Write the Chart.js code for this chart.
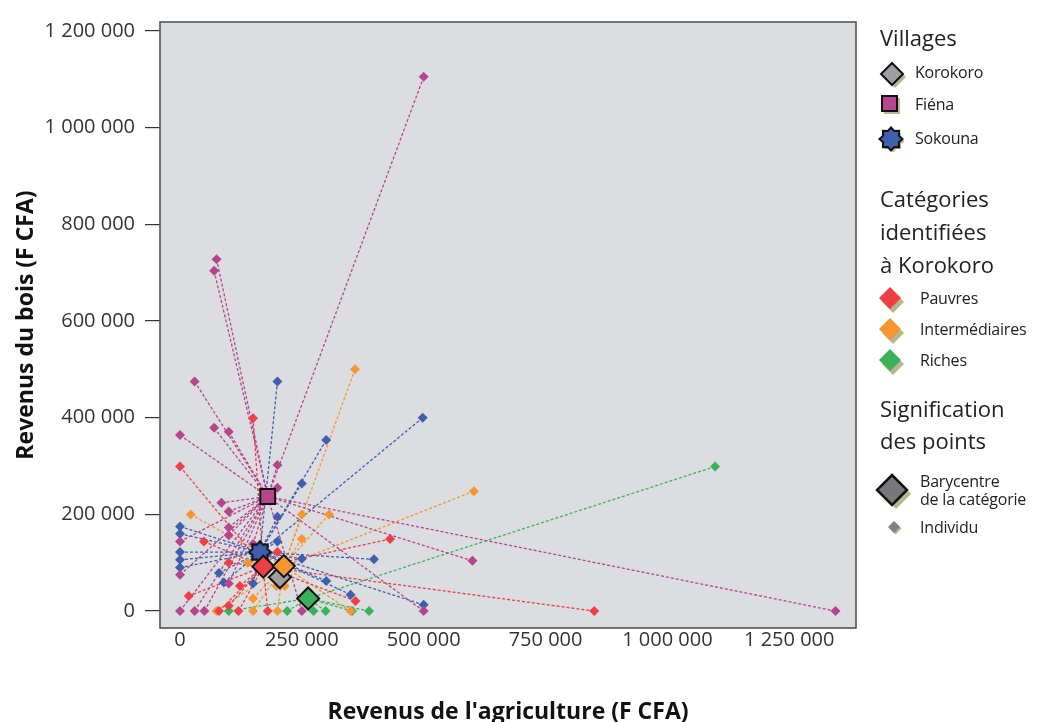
<!DOCTYPE html>
<html>
<head>
<meta charset="utf-8">
<script src="https://cdn.jsdelivr.net/npm/chart.js@4.4.1/dist/chart.umd.min.js"></script>
<style>
  body { margin: 0; background: #fff; }
  #wrap { position: relative; width: 1038px; height: 722px; overflow: hidden; font-family: "Open Sans", sans-serif; color: #222; }
  #chart { position: absolute; left: 0; top: 0; }
  .lg { position: absolute; white-space: nowrap; }
  .h { font-size: 22px; line-height: 32px; left: 880px; }
  .it { font-size: 16px; line-height: 18px; letter-spacing: -0.2px; }
  .ic { position: absolute; }
</style>
</head>
<body>
<div id="wrap">
  <canvas id="chart" width="1038" height="722"></canvas>

  <div class="lg h" style="top:21px">Villages</div>
  <svg class="ic" style="left:878px;top:60px" width="30" height="28"><polygon points="15,4 26,15 15,26 4,15" fill="#b9b58c" transform="translate(2,2)"/><polygon points="14,3 25,14 14,25 3,14" fill="#9d9fa2" stroke="#111" stroke-width="2"/></svg>
  <div class="lg it" style="left:915px;top:63px">Korokoro</div>
  <svg class="ic" style="left:880px;top:94px" width="26" height="24"><rect x="4" y="4" width="16" height="16" fill="#b9b58c"/><rect x="2" y="2" width="15" height="15" fill="#b5458c" stroke="#111" stroke-width="2"/></svg>
  <div class="lg it" style="left:915px;top:95px">Fiéna</div>
  <svg class="ic" id="lgStar" style="left:877px;top:125px" width="30" height="30"></svg>
  <div class="lg it" style="left:915px;top:129px">Sokouna</div>

  <div class="lg h" style="top:182px">Catégories</div>
  <div class="lg h" style="top:215px">identifiées</div>
  <div class="lg h" style="top:248px">à Korokoro</div>
  <svg class="ic" style="left:876px;top:285px" width="30" height="28"><polygon points="15,4 26,15 15,26 4,15" fill="#b9b58c" transform="translate(2,2)"/><polygon points="14,2 25,13 14,24 3,13" fill="#ee3f45"/></svg>
  <div class="lg it" style="left:920px;top:289px">Pauvres</div>
  <svg class="ic" style="left:876px;top:316px" width="30" height="28"><polygon points="15,4 26,15 15,26 4,15" fill="#b9b58c" transform="translate(2,2)"/><polygon points="14,2 25,13 14,24 3,13" fill="#f7962f"/></svg>
  <div class="lg it" style="left:920px;top:320px">Intermédiaires</div>
  <svg class="ic" style="left:876px;top:347px" width="30" height="28"><polygon points="15,4 26,15 15,26 4,15" fill="#b9b58c" transform="translate(2,2)"/><polygon points="14,2 25,13 14,24 3,13" fill="#3bb25a"/></svg>
  <div class="lg it" style="left:920px;top:351px">Riches</div>

  <div class="lg h" style="top:392px">Signification</div>
  <div class="lg h" style="top:424px">des points</div>
  <svg class="ic" style="left:874px;top:472px" width="40" height="40"><polygon points="19,4 34,19 19,34 4,19" fill="#b9b58c" transform="translate(3,3)"/><polygon points="18,3 33,18 18,33 3,18" fill="#77787b" stroke="#111" stroke-width="2.5"/></svg>
  <div class="lg it" style="left:920px;top:472px">Barycentre</div>
  <div class="lg it" style="left:920px;top:490px">de la catégorie</div>
  <svg class="ic" style="left:886px;top:519px" width="18" height="18"><polygon points="8,2 14,8 8,14 2,8" fill="#b9b58c" transform="translate(1.5,1.5)"/><polygon points="8,2 14,8 8,14 2,8" fill="#808184"/></svg>
  <div class="lg it" style="left:920px;top:518px">Individu</div>
</div>

<script>
// ticks
const xTicks = [0, 250000, 500000, 750000, 1000000, 1250000];
const yTicks = [0, 200000, 400000, 600000, 800000, 1000000, 1200000];

// Fiéna individuals
const fienaX = [500000, 75000, 70000, 30000, 70000, 100000, 0, 200000, 200000, 85000, 100000, 100000, 100000, 0, 150000, 0, 100000, 0, 30000, 50000, 250000, 500000, 600000, 1345000];
const fienaY = [1105000, 728000, 704000, 475000, 379000, 371000, 364000, 302000, 255000, 224000, 206000, 173000, 157000, 144000, 139000, 75000, 57000, 0, 0, 0, 0, 0, 104000, 0];

// Sokouna individuals
const sokounaX = [498000, 200000, 300000, 250000, 200000, 200000, 0, 0, 0, 0, 0, 250000, 398000, 300000, 350000, 500000, 80000, 90000, 150000];
const sokounaY = [400000, 475000, 354000, 264000, 195000, 144000, 175000, 160000, 122000, 106000, 90000, 108000, 107000, 62000, 34000, 13000, 79000, 59000, 57000];

// Korokoro: pauvres
const pauvresX = [150000, 0, 431000, 850000, 49000, 200000, 100000, 123000, 18000, 360000, 100000, 80000, 120000, 180000];
const pauvresY = [399000, 299000, 149000, 0, 144000, 122000, 100000, 52000, 31000, 21000, 11000, 0, 0, 0];

// Korokoro: intermédiaires
const interX = [359000, 603000, 306000, 250000, 250000, 22000, 139000, 198000, 215000, 150000, 75000, 150000, 200000, 350000];
const interY = [500000, 248000, 200000, 200000, 149000, 200000, 100000, 52000, 52000, 26000, 0, 0, 0, 0];

// Korokoro: riches
const richesX = [1098000, 100000, 220000, 274000, 299000, 353000, 388000];
const richesY = [299000, 0, 0, 0, 0, 0, 0];

// barycentres: Korokoro, Fiéna, Sokouna, Pauvres, Intermédiaires, Riches
const baryNames = ["Korokoro", "Fiéna", "Sokouna", "Pauvres", "Intermédiaires", "Riches"];
const baryX = [205000, 180000, 164000, 171000, 213000, 263000];
const baryY = [70000, 237000, 122000, 92000, 93000, 26000];

const fmt = v => String(v).replace(/\B(?=(\d{3})+(?!\d))/g, ' ');

function makeStar(r1, r2, fill) {
  const s = Math.ceil(r1 * 2 + 4);
  const c = document.createElement('canvas');
  c.width = s; c.height = s;
  const g = c.getContext('2d');
  g.translate(s / 2, s / 2);
  g.beginPath();
  for (let i = 0; i < 16; i++) {
    const r = i % 2 ? r2 : r1;
    const a = i * Math.PI / 8 - Math.PI / 2;
    g.lineTo(r * Math.cos(a), r * Math.sin(a));
  }
  g.closePath();
  g.fillStyle = fill; g.fill();
  g.lineWidth = 2; g.strokeStyle = '#111'; g.stroke();
  return c;
}

// star in legend
(function () {
  const pts = (cx, cy) => {
    let p = [];
    for (let i = 0; i < 16; i++) {
      const r = i % 2 ? 8.5 : 11.5;
      const a = i * Math.PI / 8 - Math.PI / 2;
      p.push((cx + r * Math.cos(a)).toFixed(1) + ',' + (cy + r * Math.sin(a)).toFixed(1));
    }
    return p.join(' ');
  };
  document.getElementById('lgStar').innerHTML =
    '<polygon points="' + pts(16, 16) + '" fill="#b9b58c"/>' +
    '<polygon points="' + pts(14, 14) + '" fill="#3f5fae" stroke="#111" stroke-width="2"/>';
})();

const groups = [
  { xs: fienaX, ys: fienaY, color: '#b5458c', bary: 1 },
  { xs: sokounaX, ys: sokounaY, color: '#3f5fae', bary: 2 },
  { xs: pauvresX, ys: pauvresY, color: '#ee3f45', bary: 3 },
  { xs: interX, ys: interY, color: '#f7962f', bary: 4 },
  { xs: richesX, ys: richesY, color: '#3bb25a', bary: 5 }
];

const datasets = [];
groups.forEach(g => {
  const bx = baryX[g.bary], by = baryY[g.bary];
  g.xs.forEach((x, i) => {
    datasets.push({
      data: [{ x: x, y: g.ys[i] }, { x: bx, y: by }],
      showLine: true,
      borderColor: g.color,
      borderWidth: 1.3,
      borderDash: [3, 2],
      pointRadius: 0,
      order: 5
    });
  });
});
groups.forEach(g => {
  datasets.push({
    data: g.xs.map((x, i) => ({ x: x, y: g.ys[i] })),
    pointStyle: 'rectRot',
    pointRadius: 5,
    backgroundColor: g.color,
    borderColor: g.color,
    borderWidth: 0,
    order: 4
  });
});

const baryStyle = [
  { style: 'rectRot', r: 11, color: '#9d9fa2', order: 3 },
  { style: 'rect', r: 10.5, color: '#b5458c', order: 1 },
  { style: makeStar(11, 8, '#3f5fae'), r: 11, color: '#3f5fae', order: 3 },
  { style: 'rectRot', r: 11, color: '#ee3f45', order: 2 },
  { style: 'rectRot', r: 11, color: '#f7962f', order: 1 },
  { style: 'rectRot', r: 11, color: '#3bb25a', order: 1 }
];
baryNames.forEach((n, i) => {
  datasets.push({
    label: n,
    data: [{ x: baryX[i], y: baryY[i] }],
    pointStyle: baryStyle[i].style,
    pointRadius: baryStyle[i].r,
    backgroundColor: baryStyle[i].color,
    borderColor: '#111',
    borderWidth: 2,
    order: baryStyle[i].order
  });
});

const plotBox = {
  id: 'plotBox',
  beforeDraw(chart) {
    const a = chart.chartArea, c = chart.ctx;
    c.save();
    c.fillStyle = '#dcdde0';
    c.fillRect(a.left, a.top, a.right - a.left, a.bottom - a.top);
    c.restore();
  },
  afterDraw(chart) {
    const a = chart.chartArea, c = chart.ctx;
    c.save();
    c.strokeStyle = '#555';
    c.lineWidth = 1.6;
    c.strokeRect(a.left, a.top, a.right - a.left, a.bottom - a.top);
    c.restore();
  }
};

const tickFont = { family: '"Open Sans", sans-serif', size: 20 };
const titleFont = { family: '"Open Sans", sans-serif', size: 23, weight: 'bold' };

new Chart(document.getElementById('chart'), {
  type: 'scatter',
  data: { datasets: datasets },
  options: {
    responsive: false,
    animation: false,
    layout: { padding: { top: 18, right: 182, left: 0, bottom: 0 } },
    plugins: { legend: { display: false }, tooltip: { enabled: false } },
    scales: {
      x: {
        type: 'linear',
        min: -41000,
        max: 1387000,
        afterBuildTicks: s => { s.ticks = xTicks.map(v => ({ value: v })); },
        afterFit: s => { s.height = 94; },
        grid: { drawOnChartArea: false, drawTicks: false },
        border: { display: false },
        ticks: { callback: fmt, font: tickFont, color: '#333', padding: 0, maxRotation: 0, autoSkip: false },
        title: { display: true, text: "Revenus de l'agriculture (F CFA)", font: titleFont, color: '#111', padding: { top: 0, bottom: -4 } }
      },
      y: {
        type: 'linear',
        min: -35000,
        max: 1218500,
        afterBuildTicks: s => { s.ticks = yTicks.map(v => ({ value: v })); },
        afterFit: s => { s.width = 160; },
        grid: { drawOnChartArea: false, drawTicks: true, tickLength: 15, color: '#333', lineWidth: 1.2 },
        border: { display: false },
        ticks: { callback: fmt, font: tickFont, color: '#333', padding: 10, autoSkip: false },
        title: { display: true, text: 'Revenus du bois (F CFA)', font: titleFont, color: '#111', padding: { top: 13, bottom: 0 } }
      }
    }
  },
  plugins: [plotBox]
});
</script>
</body>
</html>
